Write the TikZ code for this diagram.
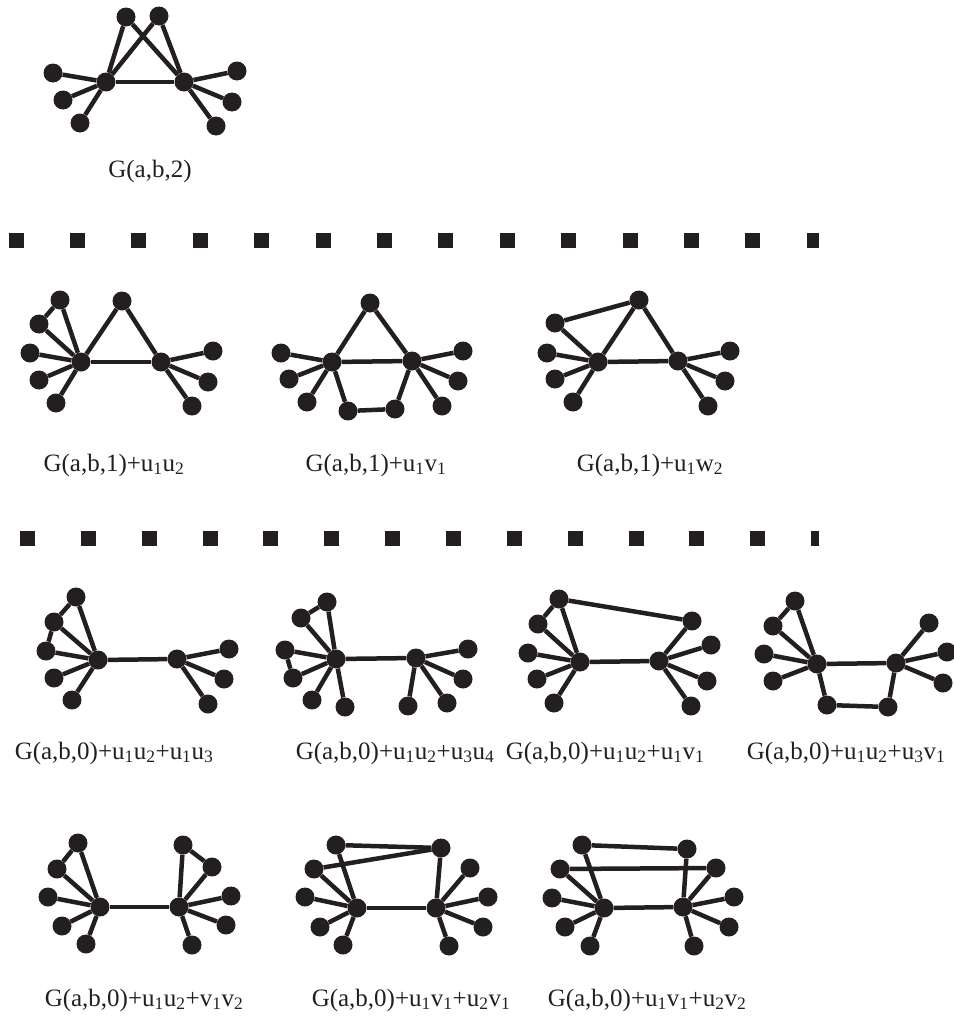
\documentclass[tikz,border=0pt]{standalone}
\usepackage{fontspec}
\setmainfont{Liberation Serif}
\definecolor{ink}{HTML}{231F20}
\begin{document}
\begin{tikzpicture}[x=1pt,y=-1pt,
  dot/.style={circle,fill=ink,inner sep=0pt,minimum size=19pt},
  edge/.style={line width=4.5pt,draw=ink},
  lab/.style={font=\fontsize{25}{30}\selectfont,inner sep=0pt,text=ink},
  dashrow/.style={line width=15pt,draw=ink,dash pattern=on 15pt off 46.4pt},
  dashrowb/.style={line width=15pt,draw=ink,dash pattern=on 15pt off 45.85pt}]
\useasboundingbox (0,0) rectangle (953,1017);
\newcommand{\leaves}[2]{\foreach \n/\x/\y in {#2} {\node[dot] (\n) at (\x,\y) {}; \draw[edge] (#1) -- (\n);}}
% ---------- G(a,b,2)
\node[dot] (T1) at (106,82) {};
\node[dot] (T2) at (184,82) {};
\node[dot] (Tt1) at (126,17) {};
\node[dot] (Tt2) at (159,16) {};
\draw[edge] (T1) -- (T2);
\draw[edge] (Tt1) -- (T1); \draw[edge] (Tt1) -- (T2);
\draw[edge] (Tt2) -- (T1); \draw[edge] (Tt2) -- (T2);
\leaves{T1}{Tl1/53/73,Tl2/63/100,Tl3/80/123}
\leaves{T2}{Tr1/237/71,Tr2/232/102,Tr3/216/126}
\node[lab] (TL) at (150,171) {G(a,b,2)};
% ---------- dashed rows
\coordinate (d1s) at (8.6,240); \coordinate (d1e) at (819,240);
\draw[dashrow] (d1s) -- (d1e);
\coordinate (d2s) at (20,538); \coordinate (d2e) at (819,538);
\draw[dashrowb] (d2s) -- (d2e);
% ---------- G(a,b,1)+u1u2
\node[dot] (A1) at (81,362) {};
\node[dot] (A2) at (161,362) {};
\node[dot] (At) at (122,301) {};
\draw[edge] (A1) -- (A2); \draw[edge] (At) -- (A1); \draw[edge] (At) -- (A2);
\leaves{A1}{Au1/60/300,Au2/39/324,Al3/30/353,Al4/39/380,Al5/56/403}
\draw[edge] (Au1) -- (Au2);
\leaves{A2}{Ar1/213/351,Ar2/208/382,Ar3/192/406}
\node[lab] (AL) at (114,465) {G(a,b,1)+u\textsubscript{1}u\textsubscript{2}};
% ---------- G(a,b,1)+u1v1
\node[dot] (B1) at (332,362) {};
\node[dot] (B2) at (412,361) {};
\node[dot] (Bt) at (370,303) {};
\draw[edge] (B1) -- (B2); \draw[edge] (Bt) -- (B1); \draw[edge] (Bt) -- (B2);
\leaves{B1}{Bl1/281/353,Bl2/289/379,Bl3/307/402,Bu/348/411}
\leaves{B2}{Br1/463/351,Br2/458/381,Br3/442/406,Bv/395/409}
\draw[edge] (Bu) -- (Bv);
\node[lab] (BL) at (376,465) {G(a,b,1)+u\textsubscript{1}v\textsubscript{1}};
% ---------- G(a,b,1)+u1w2
\node[dot] (C1) at (598,362) {};
\node[dot] (C2) at (678,361) {};
\node[dot] (Ct) at (639,300) {};
\draw[edge] (C1) -- (C2); \draw[edge] (Ct) -- (C1); \draw[edge] (Ct) -- (C2);
\leaves{C1}{Cu/555/323,Cl1/547/353,Cl2/555/379,Cl3/573/402}
\draw[edge] (Cu) -- (Ct);
\leaves{C2}{Cr1/730/351,Cr2/725/381,Cr3/708/406}
\node[lab] (CL) at (650,465) {G(a,b,1)+u\textsubscript{1}w\textsubscript{2}};
% ---------- G(a,b,0)+u1u2+u1u3
\node[dot] (D1) at (98,660) {};
\node[dot] (D2) at (177,659) {};
\draw[edge] (D1) -- (D2);
\leaves{D1}{Du1/76/597,Du2/54/622,Du3/46/651,Dl4/54/678,Dl5/72/700}
\draw[edge] (Du1) -- (Du2); \draw[edge] (Du2) -- (Du3);
\leaves{D2}{Dr1/229/649,Dr2/224/679,Dr3/208/704}
\node[lab] (DL) at (114,753) {G(a,b,0)+u\textsubscript{1}u\textsubscript{2}+u\textsubscript{1}u\textsubscript{3}};
% ---------- G(a,b,0)+u1u2+u3u4
\node[dot] (E1) at (336,659) {};
\node[dot] (E2) at (416,658) {};
\draw[edge] (E1) -- (E2);
\leaves{E1}{Eu1/327/602,Eu2/301/618,Eu3/285/650,Eu4/293/678,El5/312/700,El6/345/707}
\draw[edge] (Eu1) -- (Eu2); \draw[edge] (Eu3) -- (Eu4);
\leaves{E2}{Er1/468/649,Er2/463/679,Er3/447/703,Er4/408/706}
\node[lab] (EL) at (395,753) {G(a,b,0)+u\textsubscript{1}u\textsubscript{2}+u\textsubscript{3}u\textsubscript{4}};
% ---------- G(a,b,0)+u1u2+u1v1
\node[dot] (F1) at (580,662) {};
\node[dot] (F2) at (659,661) {};
\draw[edge] (F1) -- (F2);
\leaves{F1}{Fu1/559/599,Fu2/538/624,Fl3/528/653,Fl4/537/679,Fl5/554/703}
\draw[edge] (Fu1) -- (Fu2);
\leaves{F2}{Fv1/692/621,Fr2/711/645,Fr3/707/681,Fr4/691/706}
\draw[edge] (Fu1) -- (Fv1);
\node[lab] (FL) at (605,753) {G(a,b,0)+u\textsubscript{1}u\textsubscript{2}+u\textsubscript{1}v\textsubscript{1}};
% ---------- G(a,b,0)+u1u2+u3v1
\node[dot] (G1) at (817,664) {};
\node[dot] (G2) at (896,663) {};
\draw[edge] (G1) -- (G2);
\leaves{G1}{Gu1/795/601,Gu2/773/626,Gl3/764/654,Gl4/773/681,Gu3/827/705}
\draw[edge] (Gu1) -- (Gu2);
\leaves{G2}{Gr1/929/623,Gr2/947/652,Gr3/943/683,Gv1/888/707}
\draw[edge] (Gu3) -- (Gv1);
\node[lab] (GL) at (846,753) {G(a,b,0)+u\textsubscript{1}u\textsubscript{2}+u\textsubscript{3}v\textsubscript{1}};
% ---------- G(a,b,0)+u1u2+v1v2
\node[dot] (H1) at (100,907) {};
\node[dot] (H2) at (179,907) {};
\draw[edge] (H1) -- (H2);
\leaves{H1}{Hu1/78/843,Hu2/57/869,Hl3/48/897,Hl4/62/926,Hl5/86/944}
\draw[edge] (Hu1) -- (Hu2);
\leaves{H2}{Hv1/183/845,Hv2/212/867,Hr3/231/896,Hr4/226/925,Hr5/192/945}
\draw[edge] (Hv1) -- (Hv2);
\node[lab] (HL) at (144,1000) {G(a,b,0)+u\textsubscript{1}u\textsubscript{2}+v\textsubscript{1}v\textsubscript{2}};
% ---------- G(a,b,0)+u1v1+u2v1
\node[dot] (I1) at (357,908) {};
\node[dot] (I2) at (436,908) {};
\draw[edge] (I1) -- (I2);
\leaves{I1}{Iu1/336/845,Iu2/314/869,Il3/305/897,Il4/320/927,Il5/343/945}
\leaves{I2}{Iv1/441/848,Ir2/470/868,Ir3/488/897,Ir4/483/927,Ir5/449/946}
\draw[edge] (Iu1) -- (Iv1); \draw[edge] (Iu2) -- (Iv1);
\node[lab] (IL) at (411,1000) {G(a,b,0)+u\textsubscript{1}v\textsubscript{1}+u\textsubscript{2}v\textsubscript{1}};
% ---------- G(a,b,0)+u1v1+u2v2
\node[dot] (J1) at (604,908) {};
\node[dot] (J2) at (683,907) {};
\draw[edge] (J1) -- (J2);
\leaves{J1}{Ju1/582/845,Ju2/560/869,Jl3/552/898,Jl4/565/927,Jl5/590/946}
\leaves{J2}{Jv1/687/849,Jv2/716/868,Jr3/734/897,Jr4/729/927,Jr5/694/946}
\draw[edge] (Ju1) -- (Jv1); \draw[edge] (Ju2) -- (Jv2);
\node[lab] (JL) at (647,1000) {G(a,b,0)+u\textsubscript{1}v\textsubscript{1}+u\textsubscript{2}v\textsubscript{2}};
\end{tikzpicture}
\end{document}
